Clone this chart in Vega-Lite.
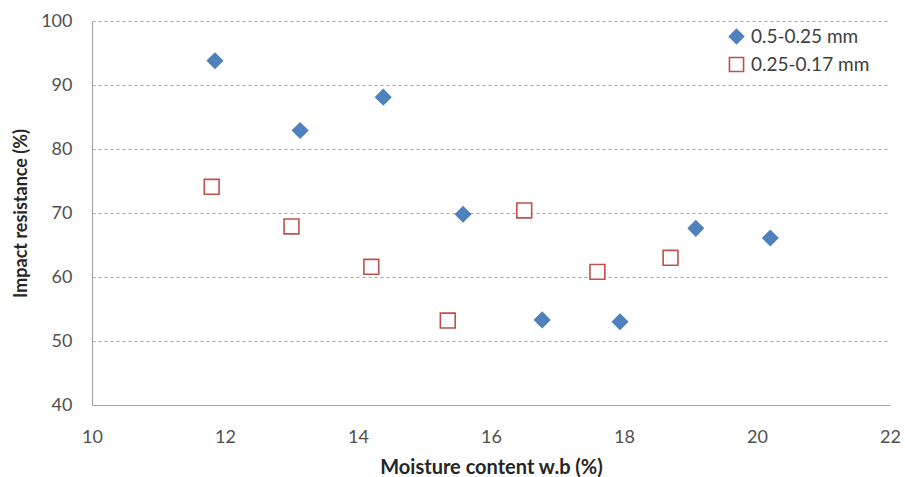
{
  "$schema": "https://vega.github.io/schema/vega-lite/v6.json",
  "width": 798,
  "height": 384,
  "autosize": {"type": "none"},
  "padding": {"left": 92, "top": 21, "right": 15, "bottom": 72},
  "background": "white",
  "config": {
    "font": "Lato",
    "view": {"stroke": null}
  },
  "data": {
    "values": [
      {"series": "0.5-0.25 mm", "moisture": 11.85, "impact": 93.8},
      {"series": "0.5-0.25 mm", "moisture": 13.13, "impact": 82.9},
      {"series": "0.5-0.25 mm", "moisture": 14.38, "impact": 88.1},
      {"series": "0.5-0.25 mm", "moisture": 15.58, "impact": 69.8},
      {"series": "0.5-0.25 mm", "moisture": 16.77, "impact": 53.3},
      {"series": "0.5-0.25 mm", "moisture": 17.94, "impact": 53.0},
      {"series": "0.5-0.25 mm", "moisture": 19.08, "impact": 67.6},
      {"series": "0.5-0.25 mm", "moisture": 20.2, "impact": 66.1},
      {"series": "0.25-0.17 mm", "moisture": 11.8, "impact": 74.1},
      {"series": "0.25-0.17 mm", "moisture": 13.0, "impact": 67.9},
      {"series": "0.25-0.17 mm", "moisture": 14.2, "impact": 61.6},
      {"series": "0.25-0.17 mm", "moisture": 15.35, "impact": 53.2},
      {"series": "0.25-0.17 mm", "moisture": 16.5, "impact": 70.4},
      {"series": "0.25-0.17 mm", "moisture": 17.6, "impact": 60.8},
      {"series": "0.25-0.17 mm", "moisture": 18.7, "impact": 63.0}
    ]
  },
  "mark": {"type": "point", "strokeWidth": 1.6, "opacity": 1, "size": 220},
  "encoding": {
    "x": {
      "field": "moisture", "type": "quantitative",
      "scale": {"domain": [10, 22], "nice": false, "zero": false},
      "axis": {
        "title": "Moisture content w.b (%)",
        "values": [10, 12, 14, 16, 18, 20, 22],
        "grid": false,
        "ticks": false,
        "domainColor": "#A6A6A6",
        "domainWidth": 1.2,
        "labelFontSize": 18,
        "labelColor": "#505050",
        "labelPadding": 23,
        "labelFlush": false,
        "titleFontSize": 20,
        "titleFontWeight": "bold",
        "titleColor": "#262626",
        "titlePadding": 11
      }
    },
    "y": {
      "field": "impact", "type": "quantitative",
      "scale": {"domain": [40, 100], "nice": false, "zero": false},
      "axis": {
        "title": "Impact resistance (%)",
        "values": [40, 50, 60, 70, 80, 90, 100],
        "grid": true,
        "gridDash": [3, 3],
        "gridColor": "#A6A6A6",
        "gridWidth": 1,
        "ticks": false,
        "domainColor": "#A6A6A6",
        "domainWidth": 1.2,
        "labelFontSize": 18,
        "labelColor": "#505050",
        "labelPadding": 20,
        "titleFontSize": 18,
        "titleFontWeight": "bold",
        "titleColor": "#262626",
        "titlePadding": 10
      }
    },
    "shape": {
      "field": "series", "type": "nominal",
      "scale": {"domain": ["0.5-0.25 mm", "0.25-0.17 mm"], "range": ["diamond", "square"]},
      "legend": {
        "title": null,
        "orient": "none",
        "legendX": 635,
        "legendY": 6,
        "labelFontSize": 19,
        "labelColor": "#404040",
        "symbolSize": 200,
        "symbolStrokeWidth": 1.6,
        "rowPadding": 7,
        "labelOffset": 5
      }
    },
    "fill": {
      "field": "series", "type": "nominal",
      "scale": {"domain": ["0.5-0.25 mm", "0.25-0.17 mm"], "range": ["#4F81BD", "white"]}
    },
    "stroke": {
      "field": "series", "type": "nominal",
      "scale": {"domain": ["0.5-0.25 mm", "0.25-0.17 mm"], "range": ["#4F81BD", "#C0504D"]}
    }
  }
}
